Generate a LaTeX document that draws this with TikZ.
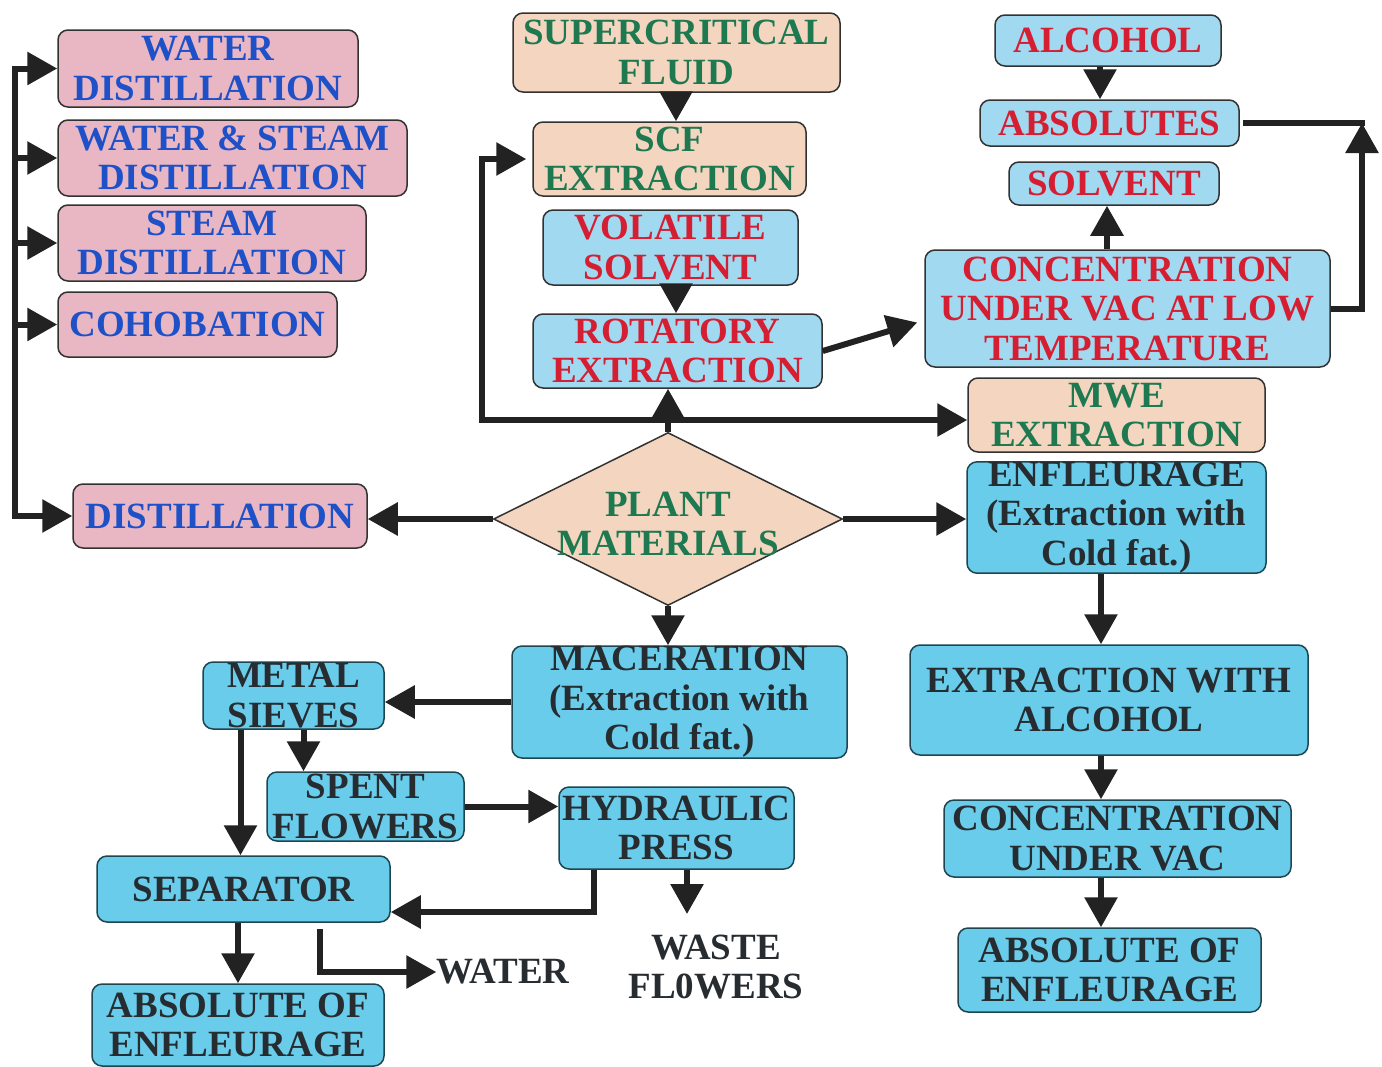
\documentclass[tikz,border=0pt]{standalone}
\usepackage{fontspec}
\setmainfont{Liberation Serif}
\usetikzlibrary{arrows.meta,shapes.geometric}
\definecolor{pinkfill}{RGB}{233,182,196}
\definecolor{beigefill}{RGB}{244,214,192}
\definecolor{lbfill}{RGB}{160,217,240}
\definecolor{tbfill}{RGB}{104,204,234}
\definecolor{bluetxt}{RGB}{30,80,200}
\definecolor{greentxt}{RGB}{30,120,80}
\definecolor{redtxt}{RGB}{214,30,50}
\definecolor{darktxt}{RGB}{38,44,48}
\definecolor{edgec}{RGB}{50,50,50}
\definecolor{tedge}{RGB}{30,70,80}
\definecolor{arrowc}{RGB}{34,34,34}
\tikzset{
  base/.style={draw=edgec, line width=1.5pt, rounded corners=10pt, inner sep=0pt,
    align=center, font=\fontsize{37}{39.5}\selectfont\bfseries},
  pinkbox/.style={base, fill=pinkfill, text=bluetxt},
  beigebox/.style={base, fill=beigefill, text=greentxt},
  redbox/.style={base, fill=lbfill, text=redtxt},
  waterbox/.style={base, draw=tedge, fill=tbfill, text=darktxt},
  freetext/.style={inner sep=0pt, align=center, text=darktxt,
    font=\fontsize{37}{39.5}\selectfont\bfseries},
  ln/.style={draw=arrowc, line width=6pt},
  arr/.style={ln, -{Triangle[length=30pt,width=32pt]}},
}
\begin{document}
\begin{tikzpicture}[x=1pt,y=-1pt]
\clip (0,0) rectangle (1382,1066);
\fill[white] (0,0) rectangle (1382,1066);

% distillation family
\node[pinkbox, minimum width=300pt, minimum height=77pt] (wd) at (208,68.5) {WATER\\DISTILLATION};
\node[pinkbox, minimum width=349pt, minimum height=76pt] (wsd) at (232.5,158) {WATER \& STEAM\\DISTILLATION};
\node[pinkbox, minimum width=308pt, minimum height=76pt] (sd) at (212,243) {STEAM\\DISTILLATION};
\node[pinkbox, minimum width=279pt, minimum height=65pt] (coh) at (197.5,324.5) {COHOBATION};
\node[pinkbox, minimum width=294pt, minimum height=64pt] (dist) at (220,516) {DISTILLATION};

% centre column
\node[beigebox, minimum width=327pt, minimum height=79pt] (scf) at (676.5,52.5) {SUPERCRITICAL\\FLUID};
\node[beigebox, minimum width=273pt, minimum height=74pt] (scfx) at (669.5,159) {SCF\\EXTRACTION};
\node[redbox, minimum width=255pt, minimum height=75pt] (vol) at (670.5,247.5) {VOLATILE\\SOLVENT};
\node[redbox, minimum width=289pt, minimum height=74pt] (rot) at (677.5,351) {ROTATORY\\EXTRACTION};

% right top column
\node[redbox, minimum width=226pt, minimum height=51pt] (alc) at (1108,40.5) {ALCOHOL};
\node[redbox, minimum width=259pt, minimum height=46pt] (abs) at (1109.5,123) {ABSOLUTES};
\node[redbox, minimum width=210pt, minimum height=43pt] (solv) at (1114,183.5) {SOLVENT};
\node[redbox, minimum width=405pt, minimum height=117pt] (conc) at (1127.5,308.5) {CONCENTRATION\\UNDER VAC AT LOW\\TEMPERATURE};
\node[beigebox, minimum width=297pt, minimum height=74pt] (mwe) at (1116.5,415) {MWE\\EXTRACTION};

% plant materials
\node[diamond, aspect=2, draw=edgec, line width=1.5pt, fill=beigefill, inner sep=0pt,
      minimum width=349pt, minimum height=173pt] (pm) at (668,519) {};
\node[freetext, text=greentxt] (pmt) at (668,524) {PLANT\\MATERIALS};

% right lower column
\node[waterbox, minimum width=299pt, minimum height=109pt] (enf) at (1116.5,517.5) {ENFLEURAGE\\(Extraction with\\Cold fat.)};
\node[waterbox, minimum width=398pt, minimum height=110pt] (ewa) at (1109,700) {EXTRACTION WITH\\ALCOHOL};
\node[waterbox, minimum width=347pt, minimum height=77pt] (cuv) at (1117.5,838.5) {CONCENTRATION\\UNDER VAC};
\node[waterbox, minimum width=303pt, minimum height=84pt] (aer) at (1109.5,970) {ABSOLUTE OF\\ENFLEURAGE};

% lower left part
\node[waterbox, minimum width=335pt, minimum height=112pt] (mac) at (679.5,702) {MACERATION\\(Extraction with\\Cold fat.)};
\node[waterbox, minimum width=181pt, minimum height=67pt] (ms) at (293.5,695.5) {METAL\\SIEVES};
\node[waterbox, minimum width=197pt, minimum height=69pt] (sf) at (365.5,806.5) {SPENT\\FLOWERS};
\node[waterbox, minimum width=235pt, minimum height=82pt] (hp) at (676.5,828) {HYDRAULIC\\PRESS};
\node[waterbox, minimum width=293pt, minimum height=66pt] (sep) at (243.5,889) {SEPARATOR};
\node[waterbox, minimum width=292pt, minimum height=82pt] (ael) at (238,1025) {ABSOLUTE OF\\ENFLEURAGE};
\node[freetext] (water) at (503,972) {WATER};
\node[freetext] (waste) at (716,967) {WASTE\\FL0WERS};

% helper coordinates
\coordinate (bar) at (15,0);
\coordinate (jn) at (668,420);
\coordinate (jl) at (482,420);
\coordinate (rx) at (1362,0);
\coordinate (cr) at (abs.east -| rx);
\coordinate (rc) at (1101,0);
\coordinate (wtip) at (687,914);

% left bracket
\draw[arr, line cap=rect] (bar |- wd.west) |- (dist.west);
\draw[arr] (bar |- wd.west) -- (wd.west);
\draw[arr] (bar |- wsd.west) -- (wsd.west);
\draw[arr] (bar |- sd.west) -- (sd.west);
\draw[arr] (bar |- coh.west) -- (coh.west);

% centre column
\draw[arr] (scf.south -| 676,0) -- (scfx.north -| 676,0);
\draw[arr] (vol.south -| 676,0) -- (rot.north -| 676,0);
\draw[arr] (pm.north) -- (pm.north |- rot.south);
\draw[arr] (jn) -- (jn -| mwe.west);
\draw[arr] (jn) -| (jl) |- ([xshift=-6pt]scfx.west);
\draw[arr] (rot.east) -- ([xshift=-7pt,yshift=-14pt]conc.west);

% right top
\draw[arr] (alc.south -| 1100,0) -- (abs.north -| 1100,0);
\draw[arr] (conc.north -| 1107,0) -- (solv.south -| 1107,0);
\draw[ln, line cap=rect] ([xshift=6pt]abs.east) -- (cr);
\draw[arr] (conc.east) -| (cr);

% from plant materials
\draw[arr] (pm.west) -- (pm.west -| dist.east);
\draw[arr] (pm.east) -- (pm.east -| enf.west);
\draw[arr] (pm.south) -- (pm.south |- mac.north);

% right lower column
\draw[arr] (enf.south -| rc) -- (ewa.north -| rc);
\draw[arr] (ewa.south -| rc) -- (cuv.north -| rc);
\draw[arr] (cuv.south -| rc) -- (aer.north -| rc);

% maceration branch
\draw[arr] (mac.west -| mac.west) -- (mac.west -| ms.east);
\draw[arr] ([xshift=10pt]ms.south) -- ([xshift=10pt]ms.south |- sf.north);
\draw[arr] ([xshift=-53pt]ms.south) -- ([xshift=-53pt]ms.south |- sep.north);
\draw[arr] (sf.east) -- (sf.east -| hp.west);
\draw[arr] ([xshift=-83pt]hp.south) |- ([yshift=-23pt]sep.east);
\draw[arr] (hp.south -| wtip) -- (wtip);
\draw[arr] (ael.north |- sep.south) -- (ael.north);
\draw[arr] ([xshift=76pt,yshift=-6pt]sep.south) |- (water.west);
\end{tikzpicture}
\end{document}
